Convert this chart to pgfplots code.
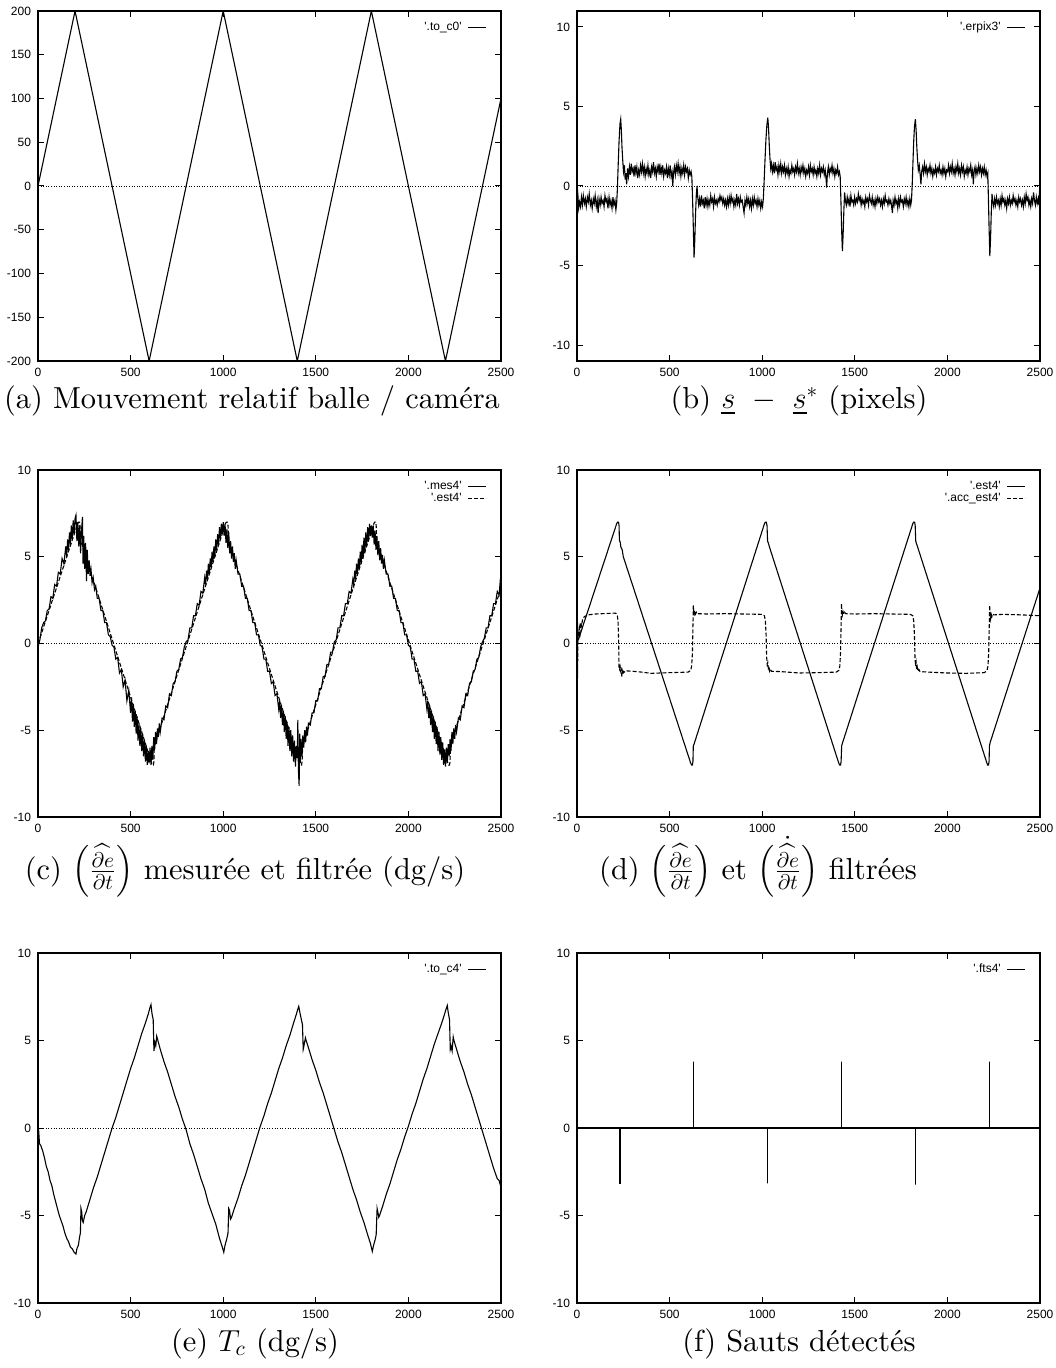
\RequirePackage{fix-cm}
\documentclass[border=0pt]{standalone}
\usepackage{amsmath}
\usepackage{fontspec}
\usepackage{pgfplots}
\pgfplotsset{compat=1.18}
\newfontfamily\gpfont{Liberation Sans}
\newfontfamily\capfont{lmroman10-regular.otf}
\newcommand{\gpsize}{\gpfont\fontsize{6}{6.5}\selectfont}
\newcommand{\q}{\textquotesingle}
\newcommand{\dedt}{\widehat{\frac{\partial e}{\partial t}}}

\pgfplotsset{
  gp/.style={
    scale only axis, width=231.5pt, height=175pt,
    xmin=0, xmax=2500, xtick={0,500,...,2500},
    tick align=inside, major tick length=3pt,
    axis line style={line width=0.6pt},
    every tick/.style={black, line width=0.5pt},
    tick label style={font=\gpsize},
    /pgf/number format/assume math mode=true,
    /pgf/number format/1000 sep={},
    no markers, cycle list={{black,solid}},
    legend style={draw=none, fill=none, at={(1,1)}, anchor=north east,
      xshift=-4pt, yshift=-3pt, font=\gpsize, row sep=0pt, column sep=2.5pt,
      nodes={inner sep=0.4pt, text height=4.2pt, text depth=1pt}},
    legend cell align=right, legend plot pos=right,
    legend image code/.code={\draw[##1] (0pt,0pt) -- (9pt,0pt);},
  },
  dat/.style={black, line width=0.55pt, mark=none},
  dsh/.style={black, line width=0.55pt, mark=none, dash pattern=on 2pt off 1pt},
  zero/.style={forget plot, black, line width=0.4pt, dash pattern=on 0.4pt off 0.9pt},
}
\newcommand{\subcap}[3]{\node[font=\capfont\fontsize{15.2}{18}\selectfont, anchor=base] at (#1,#2) {#3};}

\begin{document}
\begin{tikzpicture}
\useasboundingbox (0,0) rectangle (527.5pt,-684pt);

% (a)
\begin{axis}[gp, at={(19pt,-5.5pt)}, anchor=north west,
  ymin=-200, ymax=200, ytick={-200,-150,...,200}]
\addplot[zero] coordinates {(0,0) (2500,0)};
\addplot[dat] coordinates {(0,0) (200,200) (600,-200) (1000,200) (1400,-200) (1800,200) (2200,-200) (2500,100)};
\addlegendentry{\q.to\_c0\q}
\end{axis}

% (b)
\begin{axis}[gp, at={(288.5pt,-5.5pt)}, anchor=north west,
  ymin=-11, ymax=11, ytick={-10,-5,0,5,10}]
\addplot[zero] coordinates {(0,0) (2500,0)};
\addplot[dat] coordinates {
(0,0.1)(5,-0.6)(9,-1.4)(14,-1.0)(19,-1.3)(24,-0.7)(29,-1.2)(34,-0.6)(40,-1.1)(45,-0.8)(50,-1.3)(56,-0.7)(61,-1.0)(66,-0.5)(72,-1.2)(77,-0.9)(82,-1.4)(88,-0.8)(93,-1.1)(98,-0.6)(104,-1.3)(109,-0.9)(114,-1.7)(119,-0.8)(125,-1.2)(130,-0.7)(135,-1.1)(141,-0.9)(146,-1.3)(151,-0.6)(157,-1.0)(162,-0.8)(167,-1.4)(173,-0.7)(178,-1.2)(183,-0.9)(189,-1.4)(194,-0.7)(199,-1.2)(205,-0.9)(210,-1.5)(214,-1.1)
(218,-0.2)(222,1.2)(227,2.8)(232,3.9)(236,4.2)(239,3.6)(243,2.4)(247,1.6)(251,0.9)
(256,1.3)(260,0.4)(264,0.8)(268,0.1)(273,1.1)(278,0.6)(283,1.2)(288,0.7)(293,1.4)(298,0.9)(303,1.1)(308,0.6)(313,1.3)(318,0.8)(323,1.2)(328,0.5)(333,1.0)(338,0.7)(343,1.3)(348,0.9)(353,1.4)(358,0.8)(363,1.2)(368,0.6)(373,1.1)(378,0.8)(383,1.3)(388,0.7)(393,1.0)(398,0.5)(403,1.2)(408,0.9)(413,1.5)(418,0.8)(423,1.1)(428,0.6)(433,1.2)(438,0.9)(443,1.4)(448,0.7)(453,1.2)(458,0.8)(463,1.3)(468,0.6)(473,1.0)(478,0.8)(483,1.2)(488,0.5)(493,1.1)(498,0.7)(503,1.3)(508,0.6)(513,0.9)(517,0.0)(521,0.8)(526,1.2)(531,0.7)(536,1.3)(541,0.9)(546,1.4)(551,0.8)(556,1.2)(561,0.6)(566,1.1)(571,0.8)(576,1.3)(581,0.7)(586,1.2)(591,0.9)(596,1.1)(601,0.5)(606,1.0)(611,0.7)(616,0.9)(620,0.6)
(624,-0.8)(628,-2.6)(632,-4.5)(636,-3.4)(640,-1.8)(644,-0.6)(648,0.0)(652,-0.7)
(657,-1.2)(662,-0.8)(667,-1.3)(672,-0.6)(677,-1.1)(682,-0.9)(687,-1.4)(692,-0.7)(697,-1.2)(702,-0.8)(707,-1.3)(712,-0.9)(717,-1.2)(722,-0.6)(727,-1.0)(732,-0.8)(737,-1.3)(742,-0.7)(747,-1.1)(752,-0.9)(757,-1.2)(762,-0.8)(767,-1.0)(772,-0.6)(777,-0.9)(782,-0.7)(787,-1.1)(792,-0.8)(797,-1.2)(802,-0.9)(807,-1.3)(812,-0.8)(817,-1.2)(822,-0.7)(827,-1.1)(832,-0.6)(837,-1.0)(842,-0.8)(847,-1.3)(852,-0.9)(857,-1.2)(862,-0.5)(867,-1.1)(872,-0.8)(877,-1.2)(882,-0.7)(887,-1.0)(892,-0.9)(897,-1.3)(902,-1.7)(907,-0.9)(912,-1.2)(917,-0.7)(922,-1.1)(927,-0.8)(932,-1.3)(937,-0.9)(942,-1.4)(947,-0.8)(952,-1.2)(957,-0.7)(962,-1.1)(967,-0.9)(972,-1.3)(977,-0.8)(982,-1.2)(987,-0.9)(992,-1.4)(997,-1.0)(1002,-1.3)(1006,-0.8)
(1010,0.2)(1015,1.6)(1020,2.9)(1025,3.8)(1030,4.3)(1034,3.7)(1038,2.6)(1042,1.7)(1046,1.1)(1050,1.4)
(1055,0.9)(1060,1.3)(1065,0.8)(1070,1.5)(1075,1.0)(1080,1.2)(1085,0.7)(1090,1.3)(1095,0.9)(1100,1.4)(1105,0.8)(1110,1.2)(1115,0.9)(1120,1.3)(1125,0.7)(1130,1.1)(1135,0.8)(1140,1.2)(1145,0.6)(1150,1.0)(1155,0.8)(1160,1.3)(1165,0.9)(1170,1.1)(1175,0.7)(1180,1.2)(1185,0.9)(1190,1.4)(1195,0.8)(1200,1.1)(1205,0.7)(1210,1.2)(1215,0.9)(1220,1.3)(1225,0.8)(1230,1.1)(1235,0.6)(1240,1.0)(1245,0.8)(1250,1.2)(1255,0.7)(1260,1.3)(1265,0.9)(1270,1.1)(1275,0.7)(1280,1.2)(1285,0.8)(1290,1.0)(1295,0.6)(1300,1.1)(1305,0.8)(1310,1.3)(1315,0.7)(1320,1.1)(1325,0.9)(1330,1.2)(1335,0.7)(1340,1.0)(1345,0.4)(1348,-0.1)(1352,0.8)(1357,1.2)(1362,0.7)(1367,1.1)(1372,0.9)(1377,1.3)(1382,0.8)(1387,1.1)(1392,0.6)(1397,1.0)(1402,0.8)(1407,1.2)(1412,0.7)(1417,0.9)(1421,0.6)
(1425,-0.9)(1429,-2.8)(1433,-4.1)(1437,-3.0)(1441,-1.5)(1445,-0.4)(1449,-0.9)
(1454,-1.2)(1459,-0.7)(1464,-1.1)(1469,-0.8)(1474,-1.3)(1479,-0.6)(1484,-1.0)(1489,-0.9)(1494,-1.2)(1499,-0.7)(1504,-1.1)(1509,-0.8)(1514,-1.0)(1519,-0.5)(1524,-0.9)(1529,-0.7)(1534,-1.2)(1539,-0.8)(1544,-1.1)(1549,-0.9)(1554,-1.3)(1559,-0.7)(1564,-1.0)(1569,-0.8)(1574,-1.2)(1579,-0.6)(1584,-0.9)(1589,-1.1)(1594,-0.7)(1599,-1.2)(1604,-0.9)(1609,-1.3)(1614,-0.8)(1619,-1.1)(1624,-0.7)(1629,-1.0)(1634,-0.8)(1639,-1.2)(1644,-0.9)(1649,-1.3)(1654,-0.8)(1659,-1.1)(1664,-0.6)(1669,-1.0)(1674,-0.9)(1679,-1.2)(1684,-0.8)(1689,-1.1)(1694,-0.9)(1699,-1.3)(1703,-1.7)(1707,-0.9)(1712,-1.2)(1717,-0.7)(1722,-1.1)(1727,-0.9)(1732,-1.4)(1737,-0.8)(1742,-1.2)(1747,-0.7)(1752,-1.0)(1757,-0.9)(1762,-1.3)(1767,-0.8)(1772,-1.1)(1777,-0.7)(1782,-1.2)(1787,-0.9)(1792,-1.3)(1797,-0.8)(1802,-1.2)(1806,-0.9)
(1810,0.1)(1814,1.5)(1818,2.8)(1822,3.7)(1827,4.2)(1831,3.5)(1835,2.4)(1839,1.6)(1843,1.0)
(1848,1.3)(1853,0.7)(1857,0.1)(1861,0.9)(1866,1.2)(1871,0.8)(1876,1.4)(1881,0.9)(1886,1.2)(1891,0.7)(1896,1.1)(1901,0.9)(1906,1.3)(1911,0.8)(1916,1.1)(1921,0.6)(1926,1.0)(1931,0.8)(1936,1.2)(1941,0.7)(1946,1.1)(1951,0.9)(1956,1.3)(1961,0.8)(1966,1.0)(1971,0.7)(1976,1.2)(1981,0.8)(1986,1.1)(1991,0.6)(1996,1.0)(2001,0.9)(2006,1.3)(2011,0.8)(2016,1.2)(2021,0.9)(2026,1.4)(2031,0.8)(2036,1.1)(2041,0.7)(2046,1.2)(2051,0.9)(2056,1.4)(2061,0.8)(2066,1.1)(2071,0.7)(2076,1.3)(2081,0.9)(2086,1.2)(2091,0.6)(2096,1.0)(2101,0.8)(2106,1.2)(2111,0.7)(2116,1.1)(2121,0.9)(2126,1.3)(2131,0.7)(2136,1.0)(2140,0.1)(2144,0.9)(2149,1.2)(2154,0.7)(2159,1.1)(2164,0.8)(2169,1.3)(2174,0.9)(2179,1.2)(2184,0.7)(2189,1.1)(2194,0.8)(2199,1.2)(2204,0.7)(2209,1.0)(2214,0.6)(2218,0.8)
(2221,-0.6)(2225,-2.6)(2229,-4.4)(2233,-3.3)(2237,-1.6)(2241,-0.5)(2245,-1.0)
(2250,-1.3)(2255,-0.8)(2260,-1.2)(2265,-0.7)(2270,-1.1)(2275,-0.9)(2280,-1.3)(2285,-0.8)(2290,-1.2)(2295,-0.6)(2300,-1.0)(2305,-0.8)(2310,-1.2)(2315,-0.9)(2320,-1.4)(2325,-0.8)(2330,-1.1)(2335,-0.7)(2340,-1.2)(2345,-0.9)(2350,-1.1)(2355,-0.6)(2360,-1.0)(2365,-0.8)(2370,-1.2)(2375,-0.9)(2380,-1.3)(2385,-0.7)(2390,-1.0)(2395,-0.8)(2400,-1.2)(2405,-0.9)(2410,-1.3)(2415,-0.7)(2420,-1.1)(2425,-0.5)(2430,-0.9)(2435,-0.7)(2440,-1.2)(2445,-0.9)(2450,-1.3)(2455,-0.8)(2460,-1.1)(2465,-0.4)(2470,-0.9)(2475,-1.2)(2480,-0.7)(2485,-1.1)(2490,-0.8)(2494,-1.2)(2497,-0.4)(2500,0.2)
};
\addlegendentry{\q.erpix3\q}
\end{axis}

% (c)
\begin{axis}[gp, at={(19pt,-235pt)}, anchor=north west, height=173.5pt,
  ymin=-10, ymax=10, ytick={-10,-5,0,5,10}]
\addplot[zero] coordinates {(0,0) (2500,0)};
\addplot[dat] coordinates {
(0,-0.2)(10,0.2)(20,0.9)(30,1.2)(40,1.3)(50,1.9)(60,2.0)(70,2.7)(80,2.6)(90,3.4)(100,3.3)(110,4.1)(120,4.0)(130,4.9)(140,4.6)(150,5.6)(155,5.0)(160,6.0)(165,5.4)(170,6.4)(175,5.7)(180,6.8)(185,6.0)(190,7.1)(195,6.3)(200,7.2)
(205,7.4)(210,5.9)(215,7.0)(220,5.6)(225,6.8)(230,5.2)(235,6.5)(240,7.3)(243,4.6)(247,6.2)(252,4.3)(257,5.8)(262,3.6)(266,5.4)(271,4.0)(276,4.8)(281,3.9)(286,4.3)(292,3.5)(298,3.8)(305,3.1)(312,3.3)(320,2.6)(330,2.6)(340,1.9)(350,1.9)(360,1.2)(370,1.2)(380,0.5)(390,0.4)(400,-0.1)(410,-0.2)(420,-0.9)(430,-0.8)(440,-1.7)(450,-1.5)(460,-2.5)(470,-2.1)(480,-3.3)(490,-2.7)(500,-4.0)(505,-3.1)(510,-4.5)(515,-3.5)(520,-4.8)(525,-3.9)(530,-5.2)(535,-4.2)(540,-5.6)(545,-4.6)(550,-5.9)(555,-4.9)(560,-6.2)(565,-5.2)(570,-6.5)(575,-5.6)(580,-6.8)(585,-5.9)(590,-7.0)(595,-6.2)(600,-6.9)
(605,-6.0)(610,-7.0)(615,-5.9)(620,-6.7)(625,-5.4)(630,-6.1)(635,-5.1)(640,-5.8)(645,-4.9)(650,-5.4)(655,-4.6)(660,-5.1)(670,-4.3)(680,-4.4)(690,-3.6)(700,-3.7)(710,-2.9)(720,-3.0)(730,-2.3)(740,-2.2)(750,-1.6)(760,-1.5)(770,-0.9)(780,-0.8)(790,-0.2)(800,0.1)(810,0.2)(820,0.9)(830,0.9)(840,1.6)(850,1.6)(860,2.3)(870,2.2)(880,3.0)(890,2.9)(900,3.8)(905,3.4)(910,4.2)(915,3.7)(920,4.6)(925,4.0)(930,4.9)(935,4.4)(940,5.3)(945,4.7)(950,5.6)(955,5.0)(960,6.0)(965,5.4)(970,6.3)(975,5.7)(980,6.7)(985,6.0)(990,6.9)(995,6.3)(1000,7.0)
(1005,6.2)(1010,6.9)(1015,5.8)(1020,6.6)(1025,5.5)(1030,6.4)(1035,5.2)(1040,5.9)(1045,4.9)(1050,5.6)(1055,4.7)(1060,5.2)(1065,4.3)(1070,4.8)(1080,4.0)(1090,4.0)(1100,3.3)(1110,3.3)(1120,2.6)(1130,2.6)(1140,1.9)(1150,1.9)(1160,1.2)(1170,1.2)(1180,0.5)(1190,0.5)(1200,-0.1)(1210,-0.2)(1220,-0.9)(1230,-0.9)(1240,-1.6)(1250,-1.6)(1260,-2.3)(1270,-2.2)(1280,-3.0)(1290,-2.9)(1300,-3.8)(1305,-3.3)(1310,-4.3)(1315,-3.6)(1320,-4.7)(1325,-3.9)(1330,-5.1)(1335,-4.2)(1340,-5.5)(1345,-4.5)(1350,-5.9)(1355,-4.8)(1360,-6.2)(1365,-5.0)(1370,-6.5)(1375,-5.3)(1380,-6.8)(1385,-5.6)(1390,-7.1)(1395,-5.9)(1400,-6.6)
(1403,-4.4)(1406,-7.3)(1410,-8.2)(1413,-5.2)(1416,-6.9)(1420,-5.5)(1425,-6.5)(1430,-5.3)(1435,-6.0)(1440,-5.0)(1445,-5.7)(1450,-4.8)(1455,-5.3)(1460,-4.6)(1470,-4.7)(1480,-4.0)(1490,-4.0)(1500,-3.3)(1510,-3.3)(1520,-2.6)(1530,-2.6)(1540,-1.9)(1550,-1.9)(1560,-1.2)(1570,-1.2)(1580,-0.5)(1590,-0.5)(1600,0.1)(1610,0.2)(1620,0.9)(1630,0.9)(1640,1.6)(1650,1.6)(1660,2.3)(1670,2.3)(1680,3.0)(1690,2.9)(1700,3.7)(1705,3.4)(1710,4.2)(1715,3.7)(1720,4.6)(1725,4.0)(1730,4.9)(1735,4.3)(1740,5.3)(1745,4.6)(1750,5.7)(1755,4.9)(1760,6.1)(1765,5.2)(1770,6.4)(1775,5.6)(1780,6.7)(1785,5.9)(1790,6.9)(1795,6.2)(1800,6.8)
(1805,6.1)(1810,6.8)(1815,5.7)(1820,6.5)(1825,5.4)(1830,6.2)(1835,5.1)(1840,5.9)(1845,4.8)(1850,5.5)(1855,4.6)(1860,5.1)(1865,4.3)(1870,4.8)(1880,4.0)(1890,4.0)(1900,3.3)(1910,3.3)(1920,2.6)(1930,2.6)(1940,1.9)(1950,1.9)(1960,1.2)(1970,1.2)(1980,0.5)(1990,0.5)(2000,-0.1)(2010,-0.2)(2020,-0.9)(2030,-0.9)(2040,-1.6)(2050,-1.6)(2060,-2.3)(2070,-2.2)(2080,-3.0)(2090,-2.9)(2100,-3.8)(2105,-3.3)(2110,-4.3)(2115,-3.6)(2120,-4.7)(2125,-3.9)(2130,-5.1)(2135,-4.2)(2140,-5.5)(2145,-4.5)(2150,-5.8)(2155,-4.8)(2160,-6.2)(2165,-5.1)(2170,-6.4)(2175,-5.4)(2180,-6.7)(2185,-5.7)(2190,-7.0)(2195,-6.1)(2200,-7.1)
(2205,-6.0)(2210,-6.9)(2215,-5.8)(2220,-6.5)(2225,-5.5)(2230,-6.2)(2235,-5.1)(2240,-5.8)(2245,-4.9)(2250,-5.5)(2255,-4.7)(2260,-5.1)(2270,-4.3)(2280,-4.4)(2290,-3.6)(2300,-3.7)(2310,-2.9)(2320,-3.0)(2330,-2.3)(2340,-2.2)(2350,-1.6)(2360,-1.5)(2370,-0.9)(2380,-0.8)(2390,-0.2)(2400,0.1)(2410,0.3)(2420,0.9)(2430,0.9)(2440,1.6)(2450,1.6)(2460,2.3)(2470,2.3)(2480,3.0)(2490,2.8)(2495,3.5)(2500,3.2)
};
\addlegendentry{\q.mes4\q}
\addplot[dsh] coordinates {
(0,0)(4,0.2)(10,0.3)(214,6.9)(219,7.0)(224,7.0)(227,6.8)(229,5.95)(233,5.85)(614,-6.9)(619,-7.0)(623,-7.0)(626,-6.8)(628,-5.9)(632,-5.8)(1012,6.9)(1017,7.0)(1022,7.0)(1026,6.8)(1029,5.9)(1033,5.8)(1412,-6.85)(1418,-7.0)(1423,-7.0)(1426,-6.8)(1429,-5.9)(1433,-5.75)(1813,6.9)(1818,7.0)(1823,7.0)(1826,6.8)(1829,5.9)(1833,5.75)(2212,-6.85)(2217,-7.0)(2222,-7.0)(2225,-6.8)(2227,-5.9)(2231,-5.7)(2500,3.2)
};
\addlegendentry{\q.est4\q}
\end{axis}

% (d)
\begin{axis}[gp, at={(288.5pt,-235pt)}, anchor=north west, height=173.5pt,
  ymin=-10, ymax=10, ytick={-10,-5,0,5,10}]
\addplot[zero] coordinates {(0,0) (2500,0)};
\addplot[dat] coordinates {
(0,-0.2)(4,0.2)(10,0.3)(214,6.9)(219,7.0)(224,7.0)(227,6.8)(229,5.95)(233,5.85)(237,5.55)(244,5.4)(250,5.0)(614,-6.9)(619,-7.0)(623,-7.0)(626,-6.8)(628,-5.9)(632,-5.8)(1012,6.9)(1017,7.0)(1022,7.0)(1026,6.8)(1029,5.9)(1033,5.8)(1038,5.6)(1412,-6.85)(1418,-7.0)(1423,-7.0)(1426,-6.8)(1429,-5.9)(1433,-5.75)(1813,6.9)(1818,7.0)(1823,7.0)(1826,6.8)(1829,5.9)(1833,5.75)(1838,5.6)(2212,-6.85)(2217,-7.0)(2222,-7.0)(2225,-6.8)(2227,-5.9)(2231,-5.7)(2500,3.2)
};
\addlegendentry{\q.est4\q}
\addplot[dsh] coordinates {
(0,2.5)(1,-4.8)(2,1.5)(3,-2.0)(5,0.8)(8,0.2)(12,0.9)(16,0.6)(20,1.2)(25,1.0)(30,1.4)(40,1.55)(60,1.65)(100,1.7)(200,1.75)(210,1.74)(218,1.6)(222,1.2)(225,0.0)(227,-1.4)(230,-1.5)(233,-1.35)(236,-1.6)(239,-1.5)(242,-1.9)(245,-1.6)(248,-1.75)(252,-1.6)(258,-1.65)(270,-1.58)(300,-1.6)(350,-1.65)(400,-1.72)(450,-1.7)(500,-1.68)(600,-1.65)(614,-1.55)(619,-1.3)(623,-0.6)(626,1.0)(628,2.2)(630,1.8)(633,1.7)(636,1.9)(640,1.7)(645,1.8)(650,1.72)(700,1.7)(800,1.72)(900,1.7)(1000,1.68)(1012,1.6)(1017,1.3)(1021,0.5)(1024,-0.8)(1027,-1.2)(1030,-1.1)(1033,-1.4)(1036,-1.3)(1040,-1.6)(1045,-1.5)(1050,-1.6)(1100,-1.62)(1200,-1.7)(1300,-1.68)(1400,-1.65)(1414,-1.55)(1419,-1.3)(1423,-0.5)(1426,1.0)(1428,2.3)(1430,1.8)(1433,1.65)(1436,1.85)(1440,1.7)(1445,1.8)(1450,1.72)(1500,1.7)(1600,1.72)(1700,1.7)(1800,1.68)(1813,1.6)(1818,1.3)(1822,0.5)(1825,-0.8)(1828,-1.3)(1831,-1.1)(1834,-1.5)(1837,-1.35)(1841,-1.6)(1846,-1.5)(1852,-1.62)(1900,-1.65)(2000,-1.7)(2100,-1.72)(2200,-1.68)(2214,-1.55)(2219,-1.3)(2223,-0.5)(2226,1.0)(2228,2.2)(2230,1.6)(2233,1.4)(2236,1.7)(2240,1.55)(2245,1.7)(2250,1.65)(2300,1.68)(2400,1.65)(2500,1.6)
};
\addlegendentry{\q.acc\_est4\q}
\end{axis}

% (e)
\begin{axis}[gp, at={(19pt,-476.5pt)}, anchor=north west,
  ymin=-10, ymax=10, ytick={-10,-5,0,5,10}]
\addplot[zero] coordinates {(0,0) (2500,0)};
\addplot[dat] coordinates {
(0,0.3)(4,-0.2)(8,-0.9)(15,-1.0)(25,-1.3)(35,-1.7)(45,-2.2)(55,-2.5)(65,-3.0)(75,-3.3)(85,-3.8)(95,-4.2)(105,-4.6)(115,-5.0)(125,-5.3)(135,-5.6)(145,-6.0)(155,-6.3)(165,-6.5)(175,-6.8)(185,-6.9)(195,-7.1)(205,-7.2)(210,-6.9)(218,-6.7)(225,-6.2)(229,-6.0)(232,-4.6)(236,-4.8)(240,-5.3)(244,-5.4)(252,-5.0)
(260,-4.8)(280,-4.1)(300,-3.4)(320,-2.8)(340,-2.1)(360,-1.4)(380,-0.7)(400,0.0)(420,0.6)(440,1.3)(460,2.0)(480,2.7)(500,3.4)(520,4.0)(540,4.7)(560,5.4)(580,6.0)(595,6.5)(605,6.9)(610,7.05)(616,6.5)(622,6.2)(626,4.4)(631,4.9)(636,4.7)(641,5.25)(645,5.1)
(660,4.5)(680,3.8)(700,3.2)(720,2.5)(740,1.8)(760,1.2)(780,0.5)(800,-0.1)(820,-0.9)(840,-1.5)(860,-2.2)(880,-2.9)(900,-3.5)(920,-4.3)(940,-4.9)(960,-5.5)(980,-6.3)(995,-6.8)(1003,-7.1)(1010,-6.7)(1020,-6.3)(1026,-6.0)(1030,-4.6)(1034,-4.7)(1040,-5.2)(1045,-5.1)
(1060,-4.6)(1080,-4.0)(1100,-3.3)(1120,-2.7)(1140,-2.0)(1160,-1.3)(1180,-0.6)(1200,0.1)(1220,0.7)(1240,1.4)(1260,2.0)(1280,2.7)(1300,3.4)(1320,4.0)(1340,4.7)(1360,5.3)(1380,6.0)(1395,6.5)(1403,6.8)(1408,6.95)(1414,6.6)(1422,6.2)(1428,5.9)(1432,4.5)(1436,4.7)(1444,5.15)(1448,5.0)
(1460,4.6)(1480,3.9)(1500,3.3)(1520,2.6)(1540,2.0)(1560,1.3)(1580,0.6)(1600,-0.1)(1620,-0.8)(1640,-1.4)(1660,-2.1)(1680,-2.8)(1700,-3.5)(1720,-4.1)(1740,-4.8)(1760,-5.4)(1780,-6.1)(1795,-6.6)(1805,-7.05)(1812,-6.7)(1820,-6.4)(1826,-6.1)(1831,-4.6)(1835,-4.8)(1840,-5.1)(1844,-5.0)
(1860,-4.5)(1880,-3.8)(1900,-3.2)(1920,-2.5)(1940,-1.8)(1960,-1.2)(1980,-0.5)(2000,0.1)(2020,0.8)(2040,1.4)(2060,2.1)(2080,2.8)(2100,3.4)(2120,4.1)(2140,4.8)(2160,5.4)(2180,6.0)(2195,6.5)(2205,6.85)(2210,7.0)(2215,6.6)(2222,6.2)(2226,4.5)(2230,4.7)(2236,4.4)(2242,5.2)(2246,5.0)
(2260,4.5)(2280,3.8)(2300,3.2)(2320,2.5)(2340,1.9)(2360,1.2)(2380,0.5)(2400,-0.2)(2420,-0.9)(2440,-1.6)(2460,-2.3)(2480,-2.9)(2490,-3.0)(2500,-3.4)
};
\addlegendentry{\q.to\_c4\q}
\end{axis}

% (f)
\begin{axis}[gp, at={(288.5pt,-476.5pt)}, anchor=north west,
  ymin=-10, ymax=10, ytick={-10,-5,0,5,10}]
\addplot[zero] coordinates {(0,0) (2500,0)};
\addplot[dat] coordinates {
(0,0)(232,0)(232,-3.19)(232,0)(628,0)(628,3.8)(628,0)(1030,0)(1030,-3.17)(1030,0)(1429,0)(1429,3.8)(1429,0)(1829,0)(1829,-3.23)(1829,0)(2226,0)(2226,3.8)(2226,0)(2500,0)
};
\addlegendentry{\q.fts4\q}
\end{axis}

\subcap{126pt}{-204.5pt}{(a) Mouvement relatif balle / caméra}
\subcap{399.5pt}{-204.5pt}{(b) $\underline{s}\ -\ \underline{s}^{*}$ (pixels)}
\subcap{122.5pt}{-439.5pt}{(c) $\left(\dedt\right)$ mesurée et filtrée (dg/s)}
\subcap{379pt}{-439.5pt}{(d) $\left(\dedt\right)$ et $\left(\vphantom{\dedt}\smash[t]{\dot{\dedt}}\right)$ filtrées}
\subcap{127.5pt}{-675.5pt}{(e) $T_c$ (dg/s)}
\subcap{399.5pt}{-675.5pt}{(f) Sauts détectés}
\end{tikzpicture}
\end{document}
